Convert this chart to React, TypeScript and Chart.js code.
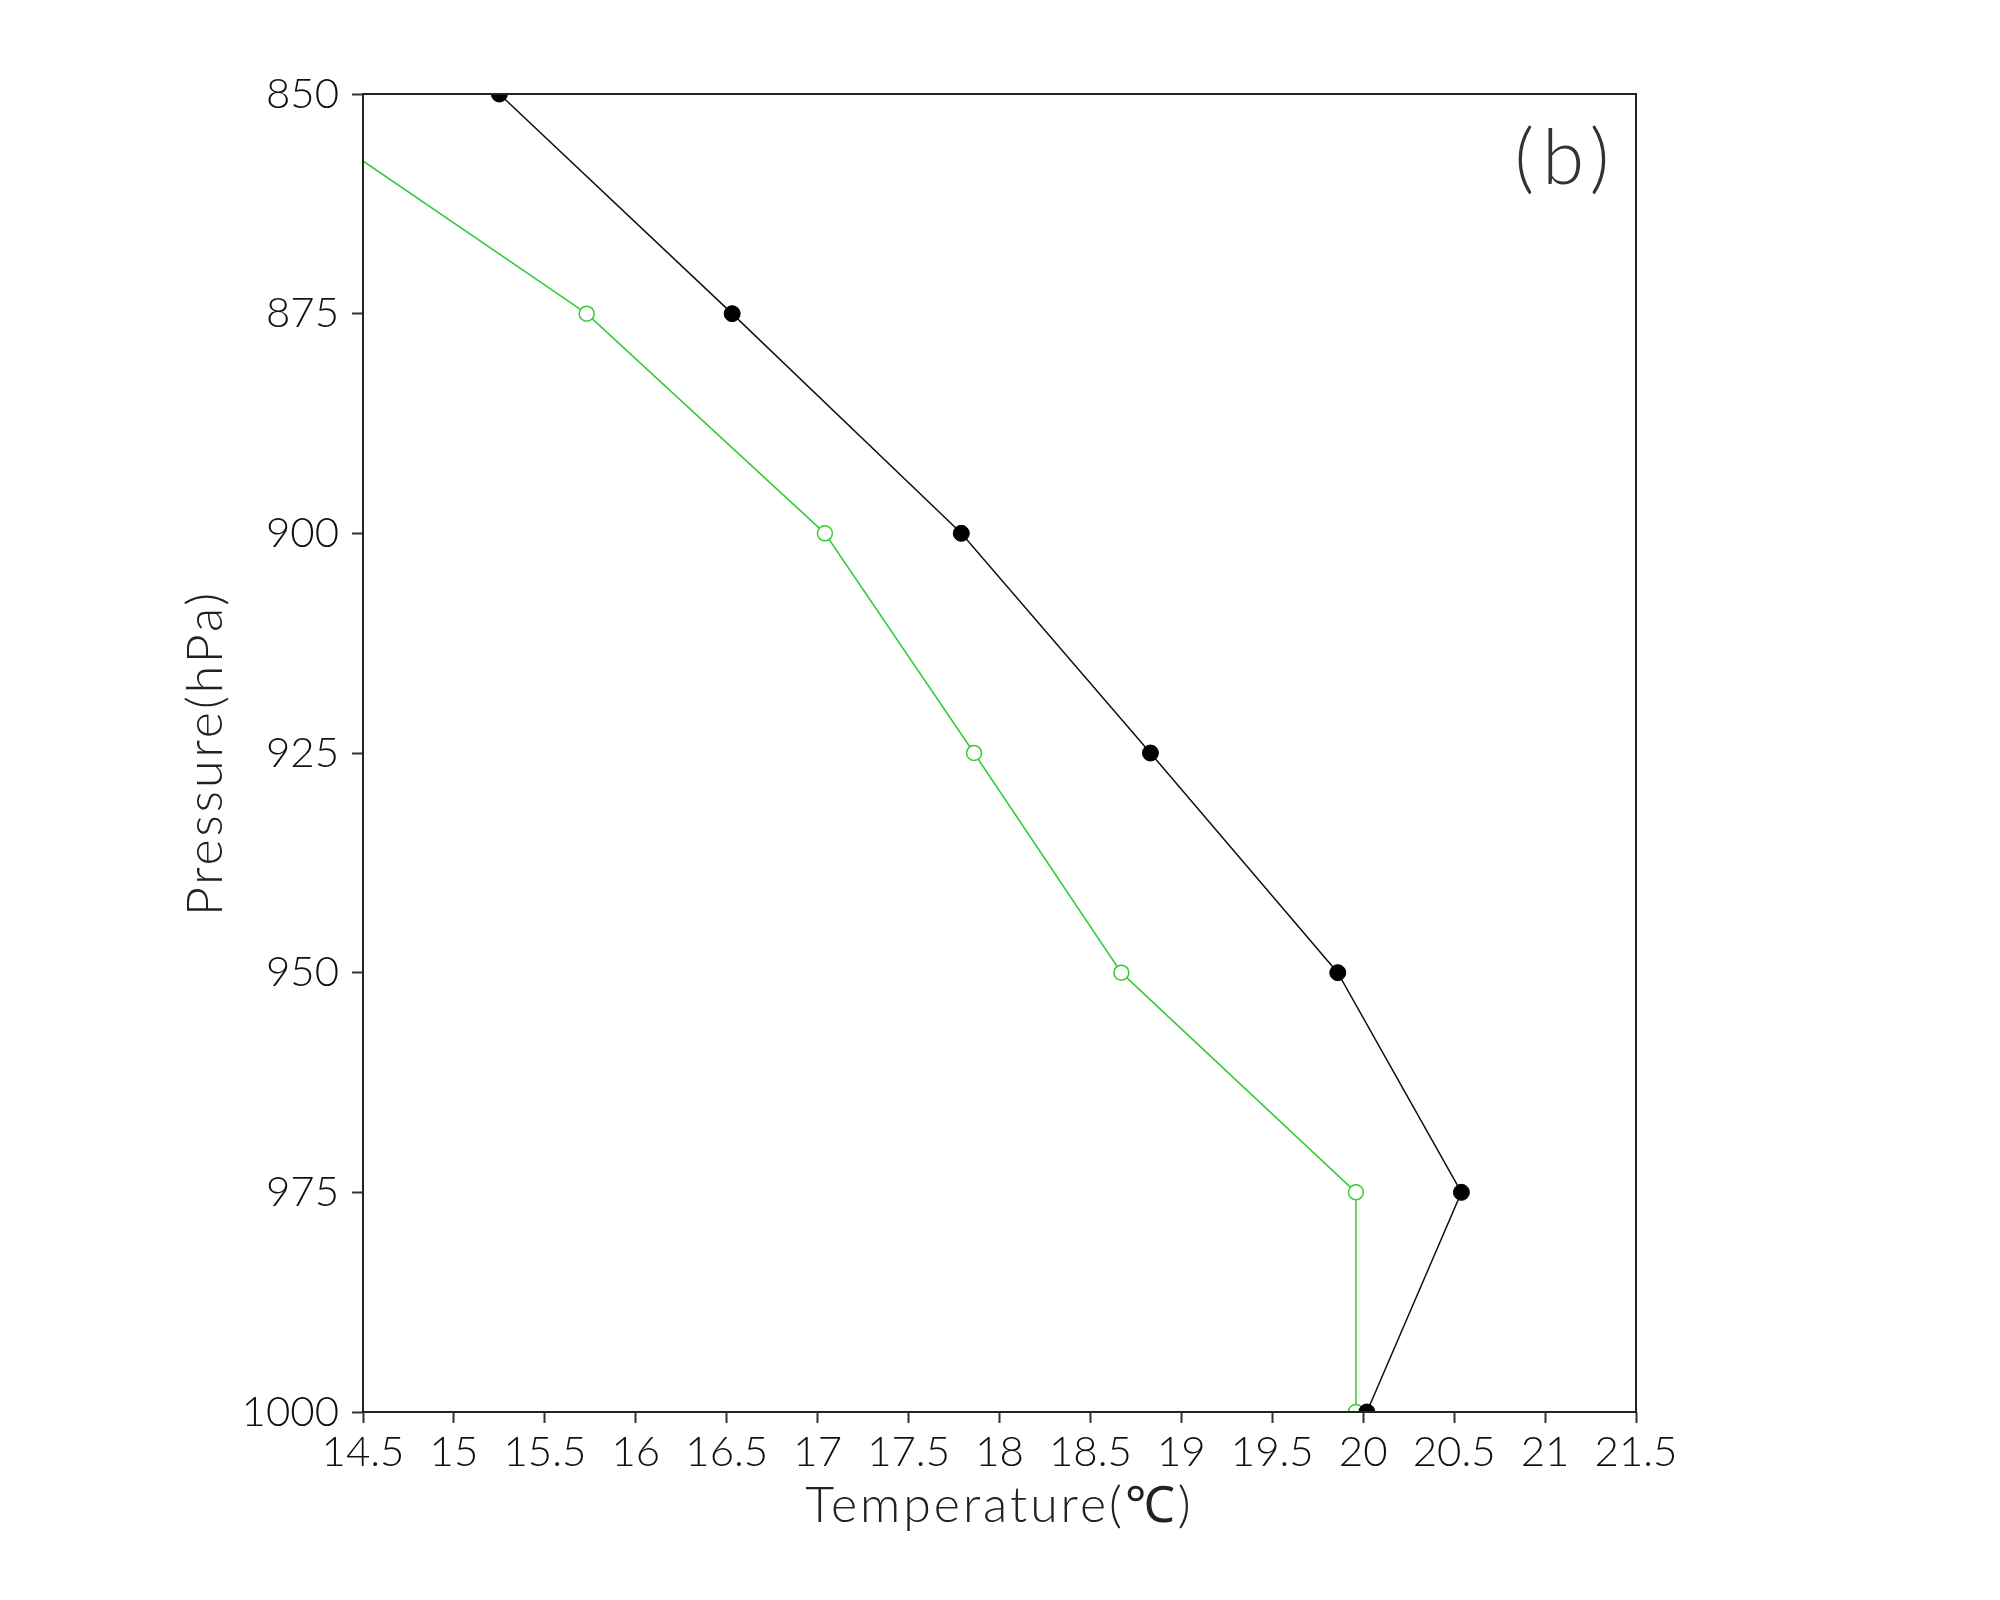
import React, { useEffect, useRef } from "react";
import { Chart, registerables } from "chart.js";

Chart.register(...registerables);

const pressureLevels = [850, 875, 900, 925, 950, 975, 1000];
const tempBlack = [15.25, 16.53, 17.79, 18.83, 19.86, 20.54, 20.02];
const tempGreen = [13.96, 15.73, 17.04, 17.86, 18.67, 19.96, 19.96];
const xTitle = "Temperature(℃)";
const yTitle = "Pressure(hPa)";
const panelLabel = "(b)";

const FONT = "Lato, 'Liberation Sans', sans-serif";

const framePlugin = {
  id: "frameAndTitles",
  afterDraw(chart: any) {
    const { ctx, chartArea } = chart;
    const { left, right, top, bottom } = chartArea;
    ctx.save();
    ctx.strokeStyle = "#222";
    ctx.lineWidth = 2;
    ctx.strokeRect(left, top, right - left, bottom - top);

    ctx.fillStyle = "#222";
    ctx.textAlign = "center";
    ctx.textBaseline = "alphabetic";
    (ctx as any).letterSpacing = "3px";
    ctx.font = `300 50px ${FONT}`;
    ctx.fillText(xTitle, (left + right) / 2, 1522);

    ctx.save();
    ctx.translate(222, (top + bottom) / 2);
    ctx.rotate(-Math.PI / 2);
    ctx.fillText(yTitle, 0, 0);
    ctx.restore();

    (ctx as any).letterSpacing = "8px";
    ctx.font = `300 76px ${FONT}`;
    ctx.fillStyle = "#333";
    ctx.fillText(panelLabel, 1566, 184);
    ctx.restore();
  },
};

export default function App() {
  const canvasRef = useRef<HTMLCanvasElement | null>(null);

  useEffect(() => {
    if (!canvasRef.current) return;
    const toPoints = (temps: number[]) =>
      temps.map((t, i) => ({ x: t, y: pressureLevels[i] }));

    const chart = new Chart(canvasRef.current, {
      type: "scatter",
      data: {
        datasets: [
          {
            label: "black",
            data: toPoints(tempBlack),
            showLine: true,
            borderColor: "#111",
            borderWidth: 1.5,
            backgroundColor: "#000",
            pointBackgroundColor: "#000",
            pointBorderColor: "#000",
            pointRadius: 8,
            pointBorderWidth: 1,
            clip: 0,
          } as any,
          {
            label: "green",
            data: toPoints(tempGreen),
            showLine: true,
            borderColor: "#33cc33",
            borderWidth: 1.5,
            backgroundColor: "#fff",
            pointBackgroundColor: "#fff",
            pointBorderColor: "#33cc33",
            pointRadius: 7.5,
            pointBorderWidth: 1.5,
            clip: 0,
          } as any,
        ],
      },
      options: {
        animation: false,
        responsive: true,
        maintainAspectRatio: false,
        layout: { padding: { top: 94, right: 364, bottom: 0, left: 0 } },
        plugins: {
          legend: { display: false },
          tooltip: { enabled: false },
        },
        scales: {
          x: {
            type: "linear",
            min: 14.5,
            max: 21.5,
            afterFit: (scale: any) => {
              scale.height = 188;
            },
            ticks: {
              stepSize: 0.5,
              color: "#111",
              padding: 4,
              font: { family: FONT, size: 42, weight: "300" as any },
              maxRotation: 0,
              autoSkip: false,
              callback: (v: any) => String(Math.round(Number(v) * 10) / 10),
            },
            grid: {
              drawOnChartArea: false,
              drawTicks: true,
              tickLength: 11,
              tickWidth: 2,
              tickColor: "#333",
            },
            border: { display: false },
          },
          y: {
            type: "linear",
            min: 850,
            max: 1000,
            reverse: true,
            afterFit: (scale: any) => {
              scale.width = 363;
            },
            ticks: {
              stepSize: 25,
              color: "#111",
              padding: 13,
              font: { family: FONT, size: 42, weight: "300" as any },
              autoSkip: false,
              callback: (v: any) => String(Math.round(Number(v))),
            },
            grid: {
              drawOnChartArea: false,
              drawTicks: true,
              tickLength: 11,
              tickWidth: 2,
              tickColor: "#333",
            },
            border: { display: false },
          },
        },
      },
      plugins: [framePlugin],
    });
    return () => chart.destroy();
  }, []);

  return (
    <div
      style={{
        position: "absolute",
        left: 0,
        top: 0,
        width: 2000,
        height: 1600,
        background: "#fff",
      }}
    >
      <canvas ref={canvasRef} />
    </div>
  );
}
